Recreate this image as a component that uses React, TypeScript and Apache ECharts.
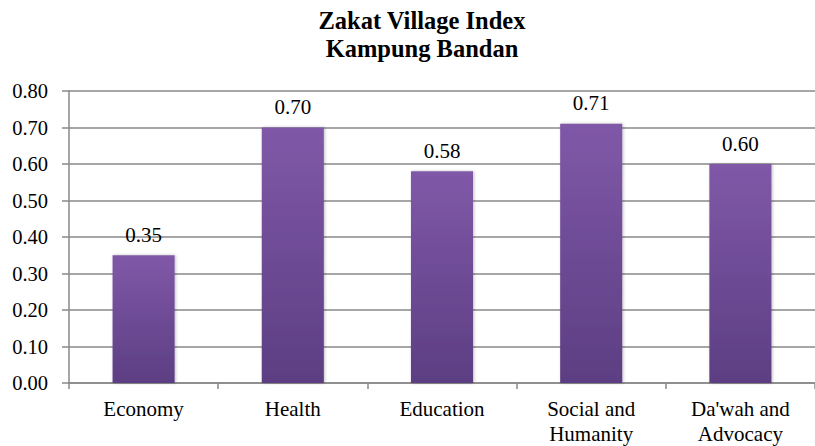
import React, { useEffect, useRef } from "react";
import * as echarts from "echarts";

const categories = ["Economy", "Health", "Education", "Social and\nHumanity", "Da'wah and\nAdvocacy"];
const values = [0.35, 0.7, 0.58, 0.71, 0.6];
const titleLines = ["Zakat Village Index", "Kampung Bandan"];

const FONT = "Liberation Serif";

export default function App() {
  const ref = useRef<HTMLDivElement>(null);
  useEffect(() => {
    if (!ref.current) return;
    const chart = echarts.init(ref.current, null, { renderer: "svg" });
    const titleStyle = {
      fontFamily: FONT,
      fontWeight: "bold",
      fontSize: 24.5,
      color: "#000",
    };
    chart.setOption({
      animation: false,
      backgroundColor: "#ffffff",
      textStyle: { fontFamily: FONT },
      title: titleLines.map((t, i) => ({
        text: t,
        left: 422,
        textAlign: "center",
        top: 8 + i * 27.5,
        padding: 0,
        textStyle: titleStyle,
      })),
      grid: { left: 69, right: -12, top: 91, bottom: 63, containLabel: false },
      xAxis: {
        type: "category",
        data: categories,
        axisLine: { lineStyle: { color: "#888", width: 1.5 } },
        axisTick: { show: true, length: 6, alignWithLabel: false, lineStyle: { color: "#888", width: 1.5 } },
        axisLabel: {
          fontFamily: FONT,
          fontSize: 21,
          lineHeight: 25,
          color: "#000",
          margin: 13,
          interval: 0,
        },
      },
      yAxis: {
        type: "value",
        min: 0,
        max: 0.8,
        interval: 0.1,
        axisLine: { show: true, lineStyle: { color: "#888", width: 1.5 } },
        axisTick: { show: true, length: 7, lineStyle: { color: "#888", width: 1.5 } },
        splitLine: { show: true, lineStyle: { color: "#888", width: 1.5 } },
        axisLabel: {
          fontFamily: FONT,
          fontSize: 20.5,
          color: "#000",
          margin: 21,
          formatter: (v: number) => v.toFixed(2),
        },
      },
      series: [
        {
          type: "bar",
          data: values,
          barWidth: "41.6%",
          itemStyle: {
            color: new echarts.graphic.LinearGradient(0, 0, 0, 1, [
              { offset: 0, color: "#8058a8" },
              { offset: 1, color: "#5c3e82" },
            ]),
            shadowColor: "rgba(0,0,0,0.25)",
            shadowBlur: 3,
            shadowOffsetX: 1,
            shadowOffsetY: 0,
          },
          label: {
            show: true,
            position: "top",
            distance: 10,
            fontFamily: FONT,
            fontSize: 21,
            color: "#000",
            formatter: (p: any) => Number(p.value).toFixed(2),
          },
        },
      ],
    });
    return () => chart.dispose();
  }, []);
  return <div ref={ref} style={{ width: 815, height: 446, position: "absolute", left: 0, top: 0 }} />;
}
